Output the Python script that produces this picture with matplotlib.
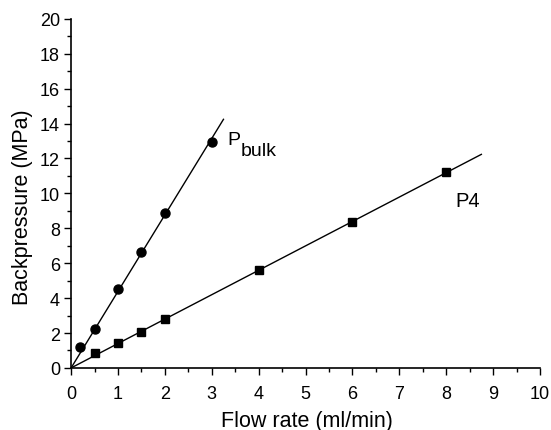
import numpy as np
import matplotlib
matplotlib.use("Agg")
from matplotlib import pyplot as plt
from matplotlib.ticker import MultipleLocator

plt.rcParams['font.family'] = ['Liberation Sans', 'DejaVu Sans']

# measured points
bulk_x = [0.2, 0.5, 1.0, 1.5, 2.0, 3.0]
bulk_y = [1.2, 2.24, 4.5, 6.65, 8.9, 12.95]
p4_x = [0.5, 1.0, 1.5, 2.0, 4.0, 6.0, 8.0]
p4_y = [0.85, 1.42, 2.05, 2.8, 5.62, 8.35, 11.2]

# how far the fit lines are drawn
bulk_fit_end = 3.25
p4_fit_end = 8.75

fig = plt.figure(figsize=(5.51, 4.31), dpi=100)
ax = fig.add_axes([0.129, 0.144, 0.851, 0.81])

# linear fits through the origin
k_bulk = np.sum(np.array(bulk_x) * bulk_y) / np.sum(np.array(bulk_x) ** 2)
k_p4 = np.sum(np.array(p4_x) * p4_y) / np.sum(np.array(p4_x) ** 2)
xb = np.array([0, bulk_fit_end])
xp = np.array([0, p4_fit_end])
ax.plot(xb, k_bulk * xb, color='black', lw=1)
ax.plot(xp, k_p4 * xp, color='black', lw=1)

ax.plot(bulk_x, bulk_y, 'o', color='black', ms=6.5)
ax.plot(p4_x, p4_y, 's', color='black', ms=6)

# series labels (subscript nearly as big as the P, like the original)
ax.text(3.33, 12.84, 'P', fontsize=14)
ax.text(3.62, 12.22, 'bulk', fontsize=14)
ax.text(8.19, 9.28, 'P4', fontsize=14.5)

ax.set_xlim(0, 10)
ax.set_ylim(0, 20)
ax.xaxis.set_major_locator(MultipleLocator(1))
ax.xaxis.set_minor_locator(MultipleLocator(0.5))
ax.yaxis.set_major_locator(MultipleLocator(2))
ax.yaxis.set_minor_locator(MultipleLocator(1))
ax.tick_params(which='major', direction='out', length=5, width=1, labelsize=13)
ax.tick_params(axis='x', which='major', pad=7)
ax.tick_params(axis='y', which='major', pad=3)
ax.tick_params(which='minor', direction='out', length=3, width=1)

ax.spines['top'].set_visible(False)
ax.spines['right'].set_visible(False)
ax.spines['left'].set_linewidth(1.2)
ax.spines['bottom'].set_linewidth(1.2)

ax.set_xlabel('Flow rate (ml/min)', fontsize=15.5)
ax.xaxis.set_label_coords(0.502, -0.12)
ax.set_ylabel('Backpressure (MPa)', fontsize=15.5)
ax.yaxis.set_label_coords(-0.0815, 0.463)

plt.savefig('out.png', dpi=100)
